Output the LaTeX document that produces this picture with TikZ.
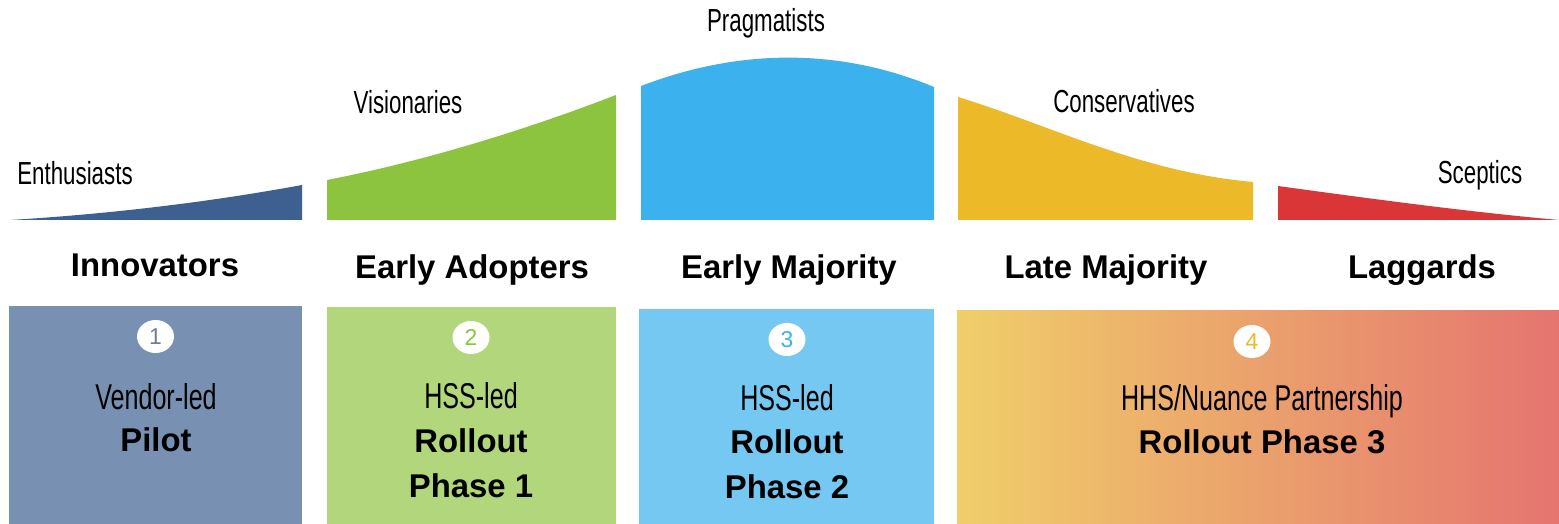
\documentclass[tikz,border=0pt]{standalone}
\usepackage{fontspec}
\setmainfont{Liberation Sans}
\newfontfamily\agency[FakeStretch=0.7]{Liberation Sans}
\usetikzlibrary{positioning,shapes.geometric}
\definecolor{innov}{HTML}{3E6091}
\definecolor{adopt}{HTML}{8CC43F}
\definecolor{major}{HTML}{3BB1ED}
\definecolor{late}{HTML}{ECB928}
\definecolor{lagg}{HTML}{DA3637}
\definecolor{innovbox}{HTML}{7891B3}
\definecolor{adoptbox}{HTML}{B1D67B}
\definecolor{majorbox}{HTML}{74C8F1}
\definecolor{lateboxL}{HTML}{F0CE6A}
\definecolor{lateboxR}{HTML}{E5746F}
\definecolor{numgray}{HTML}{6E7F95}
\tikzset{
	group/.style={font=\agency\fontsize{32}{32}\selectfont, inner sep=0pt, anchor=base},
	cat/.style={font=\bfseries\fontsize{33}{33}\selectfont, inner sep=0pt, anchor=base},
	lead/.style={font=\agency\fontsize{36}{36}\selectfont, inner sep=0pt, anchor=base},
	phase/.style={font=\bfseries\fontsize{33}{33}\selectfont, inner sep=0pt, anchor=base},
	num/.style={ellipse, fill=white, minimum width=37bp, minimum height=33bp, inner sep=0pt, font=\fontsize{23}{23}\selectfont}
}

\begin{document}
\begin{tikzpicture}[x=1bp, y=-1bp]
	\useasboundingbox (0,0) rectangle (1559,524);
	
	% bell curve segments
	\fill[innov] (10,220) .. controls (110,214) and (210,202) .. (302,185) -- (302,220) -- cycle;
	\fill[adopt] (327,180) .. controls (420,162) and (520,132) .. (616,95) -- (616,220) -- (327,220) -- cycle;
	\fill[major] (641,86) .. controls (740,48) and (840,48) .. (934,87) -- (934,220) -- (641,220) -- cycle;
	\fill[late] (958,97) .. controls (1050,125) and (1140,172) .. (1253,182) -- (1253,220) -- (958,220) -- cycle;
	\fill[lagg] (1278,186) .. controls (1380,200) and (1470,212) .. (1559,220) -- (1278,220) -- cycle;
	
	\node[group] (enth) at (75,185) {Enthusiasts};
	\node[group] (vis) at (408,114) {Visionaries};
	\node[group] (prag) at (766,32) {Pragmatists};
	\node[group] (cons) at (1124,113) {Conservatives};
	\node[group] (scep) at (1480,184) {Sceptics};
	
	\node[cat] (innovators) at (155,277) {Innovators};
	\node[cat] (adopters) at (472,279) {Early Adopters};
	\node[cat] (earlymaj) at (789,279) {Early Majority};
	\node[cat] (latemaj) at (1106,279) {Late Majority};
	\node[cat] (laggards) at (1422,279) {Laggards};
	
	% phase boxes
	\fill[innovbox] (9,306) rectangle (302,524);
	\fill[adoptbox] (327,307) rectangle (616,524);
	\fill[majorbox] (639,309) rectangle (934,524);
	\shade[left color=lateboxL, right color=lateboxR] (957,310) rectangle (1559,524);
	
	\node[num, text=numgray] (n1) at (155.5,336.5) {1};
	\node[num, text=adopt] (n2) at (471,337.5) {2};
	\node[num, text=major] (n3) at (787,339.5) {3};
	\node[num, text=late] (n4) at (1252,341.5) {4};
	
	\node[lead] (lead1) at (156,409) {Vendor-led};
	\node[phase] (pilot) at (156,451) {Pilot};
	\node[lead] (lead2) at (471,408) {HSS-led};
	\node[phase] (roll1) at (471,452) {Rollout};
	\node[phase] (ph1) at (471,497) {Phase 1};
	\node[lead] (lead3) at (787,410) {HSS-led};
	\node[phase] (roll2) at (787,453) {Rollout};
	\node[phase] (ph2) at (787,498) {Phase 2};
	\node[lead] (lead4) at (1262,410) {HHS/Nuance Partnership};
	\node[phase] (roll3) at (1262,453) {Rollout Phase 3};
\end{tikzpicture}
\end{document}
